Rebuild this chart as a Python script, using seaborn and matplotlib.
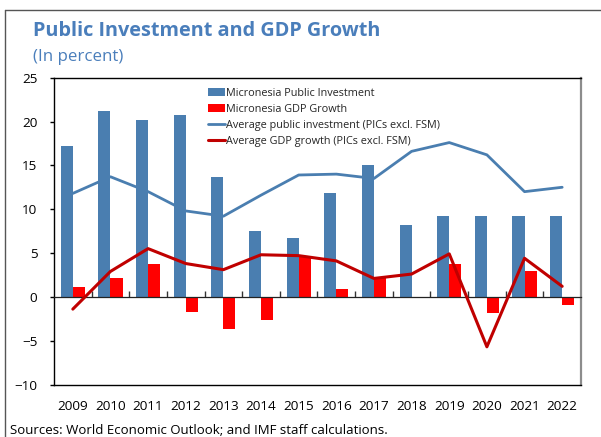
import numpy as np
import pandas as pd
import matplotlib
matplotlib.use("Agg")
import matplotlib.pyplot as plt
from matplotlib.patches import Patch
from matplotlib.lines import Line2D
import seaborn as sns

# ---- data -------------------------------------------------------------
years = ["2009", "2010", "2011", "2012", "2013", "2014", "2015",
         "2016", "2017", "2018", "2019", "2020", "2021", "2022"]
fsm_investment = [17.2, 21.2, 20.2, 20.7, 13.7, 7.5, 6.7,
                  11.8, 15.0, 8.2, 9.2, 9.2, 9.2, 9.2]
fsm_growth = [1.1, 2.1, 3.8, -1.7, -3.7, -2.6, 4.5,
              0.9, 2.2, 0.0, 3.8, -1.8, 3.0, -0.9]
pic_investment = [11.8, 13.7, 12.0, 9.8, 9.2, 11.6, 13.9,
                  14.0, 13.5, 16.6, 17.6, 16.2, 12.0, 12.5]
pic_growth = [-1.4, 2.9, 5.5, 3.8, 3.1, 4.8, 4.7,
              4.1, 2.1, 2.6, 4.9, -5.7, 4.4, 1.2]

bar_labels = ["Micronesia Public Investment", "Micronesia GDP Growth"]
line_labels = ["Average public investment (PICs excl. FSM)",
               "Average GDP growth (PICs excl. FSM)"]
y_ticks = [-10, -5, 0, 5, 10, 15, 20, 25]

# ---- style ------------------------------------------------------------
BLUE = "#4A7EB0"
RED = "#FF0000"
DARKRED = "#C00000"
TITLE_BLUE = "#4A7EBB"

sns.set_style("white")
plt.rcParams["font.family"] = ["Open Sans", "DejaVu Sans"]

W, H = 601, 437
fig = plt.figure(figsize=(W / 100, H / 100), dpi=100)
ax = fig.add_axes([54 / W, 1 - 384.5 / H, (581 - 54) / W, (384.5 - 77.7) / H])

bars = pd.DataFrame({
    "year": years * 2,
    "value": fsm_investment + fsm_growth,
    "series": [bar_labels[0]] * len(years) + [bar_labels[1]] * len(years),
})
sns.barplot(data=bars, x="year", y="value", hue="series", hue_order=bar_labels,
            palette=[BLUE, RED], width=0.64, gap=0, saturation=1,
            edgecolor="none", linewidth=0, legend=False, ax=ax, zorder=2)

pos = np.arange(len(years))
sns.lineplot(x=pos, y=pic_investment, color=BLUE, linewidth=2.0, ax=ax, zorder=4)
sns.lineplot(x=pos, y=pic_growth, color=DARKRED, linewidth=2.2, ax=ax, zorder=5)

ymin, ymax = y_ticks[0], y_ticks[-1]
ax.set_ylim(ymin, ymax)
ax.set_xlim(-0.5, len(years) - 0.5)
ax.set_yticks(y_ticks)
ax.set_xlabel("")
ax.set_ylabel("")

ax.tick_params(axis="y", direction="out", length=3, width=1, color="black",
               pad=9, labelsize=9.7, labelcolor="black", left=True)
ax.tick_params(axis="x", length=0, pad=11, labelsize=9.7, labelcolor="black")

for side in ["left", "bottom", "top"]:
    ax.spines[side].set_color("black")
    ax.spines[side].set_linewidth(1.0)
ax.spines["right"].set_color("#8C8C8C")
ax.spines["right"].set_linewidth(1.6)

# zero line with small inward ticks at the category boundaries
zero_frac = (0 - ymin) / (ymax - ymin)
sec = ax.secondary_xaxis(zero_frac)
sec.set_xticks(np.arange(0.5, len(years) - 1, 1.0))
sec.tick_params(axis="x", direction="in", length=4, width=1, color="#333333",
                labelbottom=False, labeltop=False)
sec.spines["bottom"].set_color("#222222")
sec.spines["bottom"].set_linewidth(0.9)
sec.set_zorder(3)

# legend
handles = [
    Patch(facecolor=BLUE, edgecolor="none", label=bar_labels[0]),
    Patch(facecolor=RED, edgecolor="none", label=bar_labels[1]),
    Line2D([], [], color=BLUE, linewidth=2.0, label=line_labels[0]),
    Line2D([], [], color=DARKRED, linewidth=2.2, label=line_labels[1]),
]
fig.legend(handles=handles, loc="upper left",
           bbox_to_anchor=(208 / W, 1 - 87.5 / H), frameon=False,
           fontsize=7.8, handlelength=1.55, handleheight=0.7,
           handletextpad=0.15, labelspacing=0.48, borderpad=0,
           borderaxespad=0)

# titles and source note
fig.text(33 / W, 1 - 36 / H, "Public Investment and GDP Growth",
         fontsize=14.3, fontweight="bold", color=TITLE_BLUE, va="baseline")
fig.text(33 / W, 1 - 61 / H, "(In percent)",
         fontsize=12.2, color=TITLE_BLUE, va="baseline")
fig.text(10 / W, 1 - 434.5 / H,
         "Sources: World Economic Outlook; and IMF staff calculations.",
         fontsize=9.5, color="black", va="baseline")

# outer frame
frame_kw = dict(transform=fig.transFigure, color="#555555", linewidth=1.0)
fig.add_artist(Line2D([5 / W, 5 / W], [0, 1 - 10 / H], **frame_kw))
fig.add_artist(Line2D([5 / W, 1], [1 - 10 / H, 1 - 10 / H], **frame_kw))

fig.savefig("out.png", dpi=100)
